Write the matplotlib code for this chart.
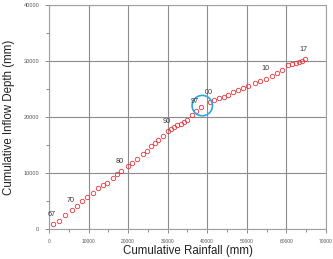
import matplotlib
matplotlib.use("Agg")
import matplotlib.pyplot as plt
from matplotlib.ticker import MultipleLocator

plt.rcParams['font.family'] = ['Liberation Sans', 'DejaVu Sans']

# cumulative rainfall (mm) and cumulative inflow depth (mm), one point per year
rain = [1090, 2460, 4130, 5750, 7010, 8280, 9620, 11140, 12410, 13670,
        14610, 16130, 17220, 18310, 19930, 21020, 22280, 23730, 24810, 25750,
        26840, 27600, 28790, 30060, 30890, 31650, 32410, 33300, 34180, 34940,
        36080, 37220, 38490, 40640, 41650, 42920, 44180, 45320, 46590, 47780,
        49040, 50310, 52030, 53430, 54940, 56340, 57600, 59000, 60390, 61530,
        62410, 63300, 64060, 64640]
inflow = [840, 1500, 2580, 3400, 4190, 4960, 5800, 6440, 7330, 7820,
          8300, 9120, 9790, 10320, 11270, 11810, 12520, 13310, 13950, 14740,
          15390, 15870, 16580, 17480, 17890, 18190, 18500, 18820, 19180, 19540,
          20340, 21060, 21770, 22610, 23110, 23380, 23650, 24010, 24540, 24900,
          25170, 25620, 26160, 26510, 26870, 27410, 27890, 28480, 29200, 29520,
          29680, 29860, 30040, 30310]

# year labels: point index -> text
label_idx = [0, 3, 13, 23, 31, 33, 44, 53]
label_txt = ['67', '70', '80', '90', '97', '00', '10', '17']

# highlighted break point
circle_x = [38740]
circle_y = [22040]

fig = plt.figure(figsize=(3.33, 2.59), dpi=100)
ax = fig.add_axes([0.1471, 0.1158, 0.8318, 0.8649])

ax.plot(rain, inflow, ls='none', marker='o', ms=3.2, mfc='none',
        mec='#e8343a', mew=0.6, zorder=3)
ax.scatter(circle_x, circle_y, s=215, facecolors='none',
           edgecolors='#2aa7dd', linewidths=1.2, zorder=4)

for i, t in zip(label_idx, label_txt):
    ax.annotate(t, (rain[i], inflow[i]), xytext=(-1, 4.5),
                textcoords='offset points', ha='center', va='bottom',
                fontsize=5.2, color='#333333', zorder=5)

ax.set_xlim(0, 70000)
ax.set_ylim(0, 40000)
ax.xaxis.set_major_locator(MultipleLocator(10000))
ax.xaxis.set_minor_locator(MultipleLocator(5000))
ax.yaxis.set_major_locator(MultipleLocator(10000))
ax.yaxis.set_minor_locator(MultipleLocator(5000))
ax.grid(True, which='major', color='#8c8c8c', lw=0.8)
ax.tick_params(axis='both', which='both', direction='out', color='#777777',
               width=0.6)
ax.tick_params(axis='both', which='major', length=3, pad=4, labelcolor='#555555')
ax.tick_params(axis='both', which='minor', length=2)
ax.tick_params(axis='x', labelsize=3.5)
ax.tick_params(axis='y', labelsize=4)
for s in ax.spines.values():
    s.set_color('#a0a0a0')
    s.set_linewidth(0.8)

fig.text(0.5631, 0.008, 'Cumulative Rainfall (mm)', ha='center', va='bottom',
         fontsize=8.3, color='#222222')
fig.text(0.028, 0.548, 'Cumulative Inflow Depth (mm)', ha='center', va='center',
         rotation=90, fontsize=8.3, color='#222222')

fig.savefig('out.png', dpi=100)
